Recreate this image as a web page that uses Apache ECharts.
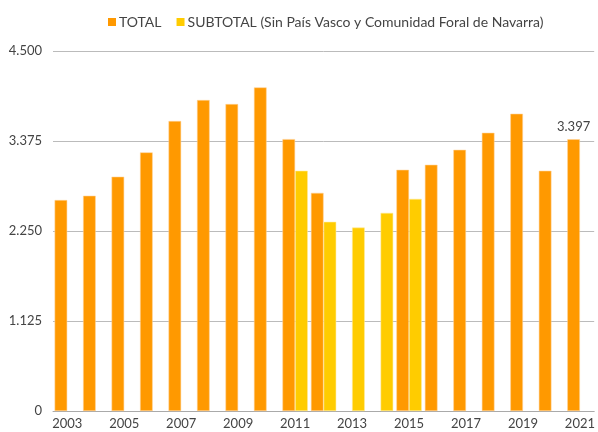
<!DOCTYPE html>
<html><head><meta charset="utf-8">
<script src="https://cdn.jsdelivr.net/npm/echarts@6/dist/echarts.min.js"></script>
<style>html,body{margin:0;padding:0;background:#fff}#c{width:598px;height:432px}</style>
</head><body><div id="c"></div>
<script>
const years = ['2003','2004','2005','2006','2007','2008','2009','2010','2011','2012','2013','2014','2015','2016','2017','2018','2019','2020','2021'];
const total = [2637,2691,2929,3233,3625,3887,3837,4045,3399,2727,null,null,3015,3078,3265,3478,3716,3003,3397];
const subtotal = [null,null,null,null,null,null,null,null,3003,2365,2293,2477,2652,null,null,null,null,null,null];
const yTicks = [0,1125,2250,3375,4500];
const fmt = v => String(v).replace(/\B(?=(\d{3})+(?!\d))/g, '.');
const FONT = 'Lato';
const chart = echarts.init(document.getElementById('c'), null, {renderer:'canvas'});
chart.setOption({
  animation:false,
  textStyle:{fontFamily:FONT},
  legend:{top:10,left:103,itemWidth:8,itemHeight:8,itemGap:15,icon:'rect',
    itemStyle:{borderWidth:0},
    textStyle:{fontFamily:FONT,fontSize:14,color:'#444',padding:[0,0,0,-2]},
    data:['TOTAL','SUBTOTAL (Sin País Vasco y Comunidad Foral de Navarra)']},
  grid:{left:53,right:3,top:51,bottom:21,containLabel:false},
  xAxis:{type:'category',data:years,
    axisLine:{lineStyle:{color:'#aaa',width:1}},axisTick:{show:false},
    axisLabel:{interval:1,color:'#444',fontSize:13,fontFamily:FONT,margin:6}},
  yAxis:{type:'value',min:yTicks[0],max:yTicks[yTicks.length-1],interval:yTicks[1]-yTicks[0],
    axisLine:{show:false},axisTick:{show:false},
    splitLine:{lineStyle:{color:'#bbb',width:1}},
    axisLabel:{color:'#444',fontSize:13,fontFamily:FONT,margin:11,formatter:v=>fmt(v)}},
  series:[
    {name:'TOTAL',type:'bar',data:total,barGap:'0%',barCategoryGap:'11%',
     itemStyle:{color:'#FF9900',borderColor:'rgba(255,210,150,0.9)',borderWidth:0.6},
     label:{show:true,position:'top',distance:6,color:'#444',fontSize:13,fontFamily:FONT,
       formatter:p=>p.dataIndex===years.length-1?fmt(p.value):''}},
    {name:'SUBTOTAL (Sin País Vasco y Comunidad Foral de Navarra)',type:'bar',data:subtotal,barGap:'0%',barCategoryGap:'11%',
     itemStyle:{color:'#FFCC00',borderColor:'rgba(255,235,150,0.9)',borderWidth:0.6}}
  ]
});
</script></body></html>
